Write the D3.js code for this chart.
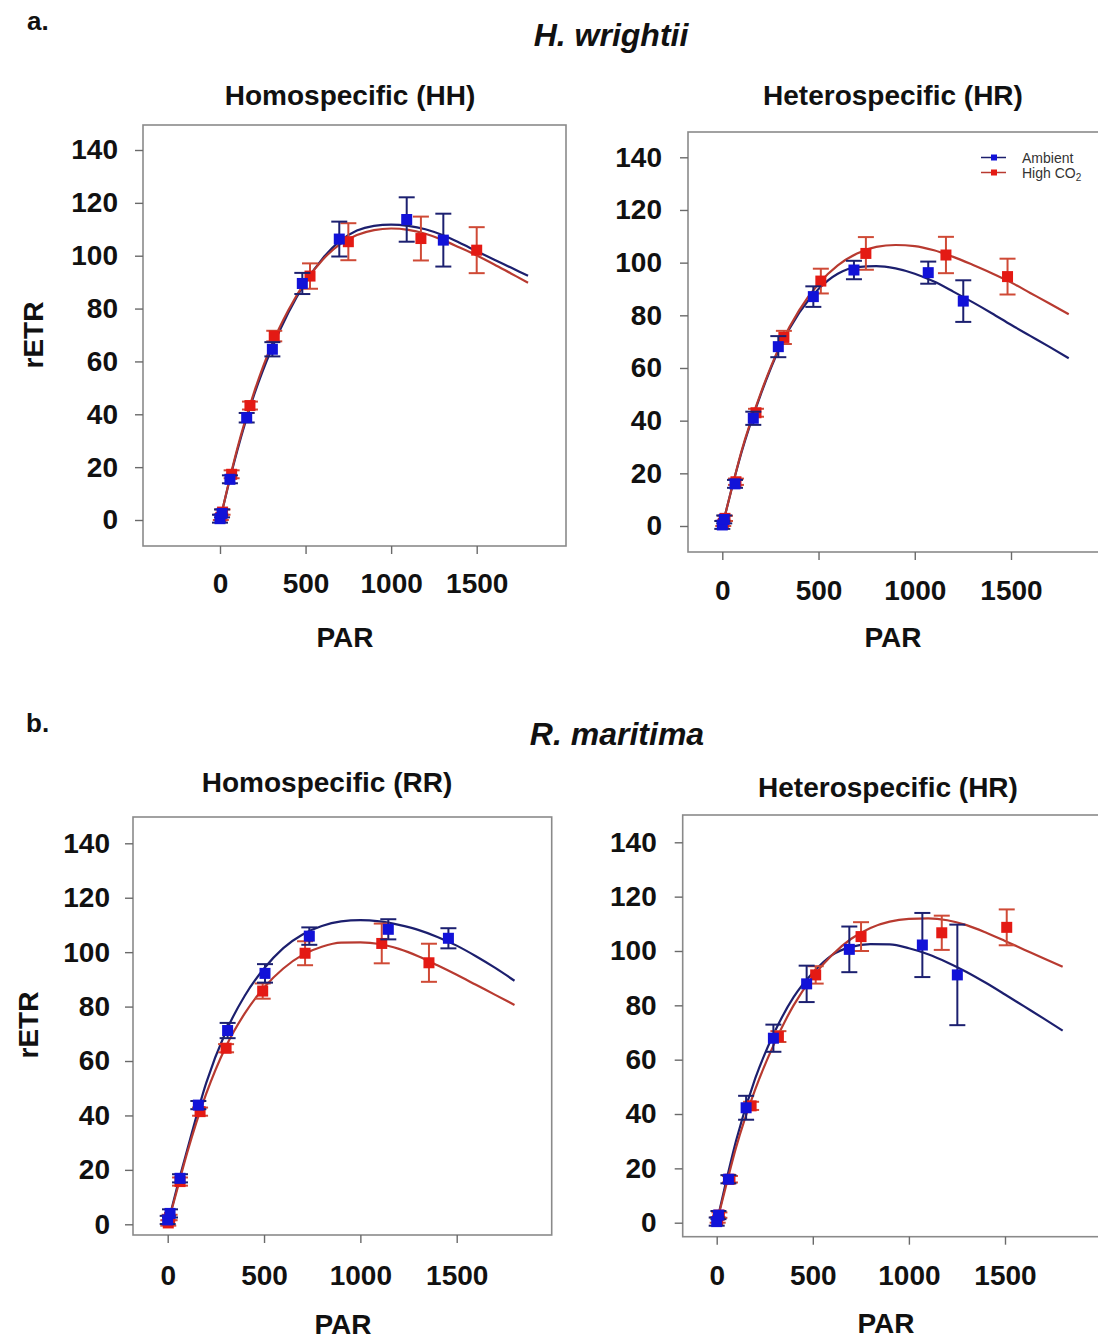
<!DOCTYPE html>
<html>
<head>
<meta charset="utf-8">
<script src="https://cdn.jsdelivr.net/npm/d3@7"></script>
<style>
  html, body { margin: 0; padding: 0; background: #fff; }
  svg { display: block; font-family: "Liberation Sans", Arial, sans-serif; }
</style>
</head>
<body>
<script>
// ---- Rapid light curves: rETR vs PAR, ambient vs high CO2 ----

const parTicks = [0, 500, 1000, 1500];
const etrTicks = [0, 20, 40, 60, 80, 100, 120, 140];

// PAR grid on which the fitted curves are tabulated
const fitPar = [0, 50, 100, 200, 300, 400, 500, 600, 700, 800, 900, 1000, 1100, 1200, 1300, 1400, 1500, 1600, 1700, 1800];

// H. wrightii, homospecific (HH)
const hhAmbPar = [0, 12, 58, 156, 306, 481, 697, 1091, 1305];
const hhAmbEtr = [0.5, 2.5, 15.4, 38.7, 64.6, 89.5, 106.3, 113.7, 105.9];
const hhAmbErr = [1.5, 1.5, 1.5, 1.8, 2.7, 4, 6.6, 8.4, 10];
const hhHighPar = [5, 15, 68, 175, 317, 526, 750, 1174, 1500];
const hhHighEtr = [1, 3, 17.3, 43.3, 69.6, 92.3, 105.3, 106.5, 102.1];
const hhHighErr = [1, 1, 1.5, 1.5, 2, 4.8, 7, 8.3, 8.7];
const hhAmbFit = [0, 13.5, 26, 47.5, 64.5, 78.5, 90, 99, 105.5, 109.5, 111.3, 111.8, 111.3, 110, 107.8, 104.9, 101.7, 98.6, 95.5, 92.4];
const hhHighFit = [0, 13.8, 26.8, 48.5, 66, 79.5, 90.3, 98.5, 104.3, 107.8, 109.7, 110.3, 109.8, 108.3, 106, 103.1, 100.1, 96.8, 93.3, 89.8];

// H. wrightii, heterospecific (HR)
const hwAmbPar = [0, 10, 66, 161, 291, 473, 684, 1070, 1252];
const hwAmbEtr = [0.4, 2.5, 16, 40.9, 68.1, 87.1, 97.2, 96.2, 85.4];
const hwAmbErr = [1.5, 1.5, 1.5, 2.5, 4, 3.9, 3.5, 4.2, 7.9];
const hwHighPar = [5, 14, 71, 175, 320, 512, 746, 1162, 1482];
const hwHighEtr = [1, 2.9, 16.8, 43, 71.6, 93, 103.5, 102.9, 94.7];
const hwHighErr = [1, 1, 1.2, 1.5, 2.5, 4.7, 6.2, 6.9, 6.8];
const hwAmbFit = [0, 14.5, 28, 50, 68, 81, 90, 95.8, 98.3, 98.7, 97.8, 95.8, 92.8, 89, 85, 80.8, 76.4, 72.2, 68, 63.7];
const hwHighFit = [0, 14.5, 28.5, 50.5, 68.5, 82, 92, 99, 103.5, 106, 106.7, 106.3, 104.7, 102.2, 99.2, 96, 92.5, 88.5, 84.5, 80.4];

// R. maritima, homospecific (RR)
const rrAmbPar = [0, 12, 64, 159, 311, 505, 735, 1145, 1457];
const rrAmbEtr = [1.6, 4, 16.9, 43.8, 71.2, 92.2, 105.9, 108.4, 105.1];
const rrAmbErr = [1.5, 1.5, 1.5, 1.5, 2.8, 3.4, 3.2, 3.7, 3.7];
const rrHighPar = [3, 10, 64, 168, 303, 493, 713, 1111, 1356];
const rrHighEtr = [0.5, 2.5, 15.7, 41.4, 64.7, 85.7, 99.6, 103.2, 96.1];
const rrHighErr = [1, 1, 1.5, 1.5, 1.5, 2.8, 4.4, 7.3, 7];
const rrAmbFit = [0, 14, 27, 52, 70.5, 84, 94, 101.5, 106.5, 109.6, 111.3, 111.8, 111.3, 110, 108.2, 105.6, 102.4, 98.5, 94.2, 89.5];
const rrHighFit = [0, 13, 26, 48, 65, 77.5, 87, 94, 99, 102, 103.5, 103.6, 103, 101.2, 98.5, 95.2, 91.7, 88, 84.3, 80.6];

// R. maritima, heterospecific (HR)
const rmAmbPar = [0, 9, 61, 153, 295, 468, 690, 1070, 1252];
const rmAmbEtr = [0.4, 2.8, 16, 42.3, 67.9, 87.9, 100.6, 102.2, 91.2];
const rmAmbErr = [1.5, 1.5, 1.5, 4.4, 5, 6.7, 8.4, 11.8, 18.5];
const rmHighPar = [5, 14, 69, 179, 321, 515, 751, 1171, 1509];
const rmHighEtr = [1, 2.8, 16, 43, 68.5, 91.2, 105.3, 106.7, 108.7];
const rmHighErr = [1, 1, 1.2, 1.5, 2, 3.2, 5.3, 6.3, 6.6];
const rmAmbFit = [0, 15.5, 30, 53, 70, 83, 92, 98.5, 101.5, 102.5, 102.4, 101, 98.8, 95.8, 92.3, 88.3, 84, 79.6, 75.2, 70.7];
const rmHighFit = [0, 14, 27.5, 49, 66, 80, 90.5, 98.5, 104.5, 108.5, 110.8, 111.8, 112, 111.3, 109.5, 106.8, 103.7, 100.5, 97.3, 94.2];

const seriesNames = ["Ambient", "High CO"];

// ---- colours ----
const C = {
  ambMark: "#1212d8", ambLine: "#1c1f6e", ambBar: "#1c2070",
  highMark: "#e41a14", highLine: "#b83a30", highBar: "#cf4a36",
  frame: "#8a8a8a", tick: "#6a6a6a", text: "#111"
};

// ---- panel layout (pixel placement of each plot) ----
const panels = [
  { title: "Homospecific (HH)", tx: 350, ty: 105,
    frame: [143, 125, 566, 546], xr: [220, 476.7], yr: [520, 150],
    yLabX: 33, yLabY: 335, parX: 345, parY: 647, xLabOff: 27, yLabOff: 25,
    amb: [hhAmbPar, hhAmbEtr, hhAmbErr, hhAmbFit], high: [hhHighPar, hhHighEtr, hhHighErr, hhHighFit] },
  { title: "Heterospecific (HR)", tx: 893, ty: 105,
    frame: [688, 132, 1110, 552], xr: [722.3, 1011], yr: [526, 157.3],
    yLabX: null, parX: 893, parY: 647, xLabOff: 28, yLabOff: 26, legend: true,
    amb: [hwAmbPar, hwAmbEtr, hwAmbErr, hwAmbFit], high: [hwHighPar, hwHighEtr, hwHighErr, hwHighFit] },
  { title: "Homospecific (RR)", tx: 327, ty: 792,
    frame: [133, 817, 551.7, 1235], xr: [167.7, 456.7], yr: [1224.3, 843.3],
    yLabX: 28, yLabY: 1025, parX: 343, parY: 1334, xLabOff: 30, yLabOff: 23,
    amb: [rrAmbPar, rrAmbEtr, rrAmbErr, rrAmbFit], high: [rrHighPar, rrHighEtr, rrHighErr, rrHighFit] },
  { title: "Heterospecific (HR)", tx: 888, ty: 797,
    frame: [682.7, 815, 1110, 1236.7], xr: [716.7, 1005], yr: [1222.7, 842.3],
    yLabX: null, parX: 886, parY: 1333, xLabOff: 28, yLabOff: 26,
    amb: [rmAmbPar, rmAmbEtr, rmAmbErr, rmAmbFit], high: [rmHighPar, rmHighEtr, rmHighErr, rmHighFit] }
];

const svg = d3.select("body").append("svg")
  .attr("width", 1098).attr("height", 1342);

// section letters and species headings
svg.append("text").attr("x", 27).attr("y", 30).attr("font-size", 26).attr("font-weight", "bold")
  .attr("fill", C.text).text("a.");
svg.append("text").attr("x", 611).attr("y", 46).attr("text-anchor", "middle")
  .attr("font-size", 32).attr("font-weight", "bold").attr("font-style", "italic")
  .attr("fill", C.text).text("H. wrightii");
svg.append("text").attr("x", 26).attr("y", 732).attr("font-size", 26).attr("font-weight", "bold")
  .attr("fill", C.text).text("b.");
svg.append("text").attr("x", 617).attr("y", 745).attr("text-anchor", "middle")
  .attr("font-size", 32).attr("font-weight", "bold").attr("font-style", "italic")
  .attr("fill", C.text).text("R. maritima");

panels.forEach(p => {
  const x = d3.scaleLinear().domain([0, 1500]).range(p.xr);
  const y = d3.scaleLinear().domain([0, 140]).range(p.yr);
  const [fx0, fy0, fx1, fy1] = p.frame;
  const g = svg.append("g");

  // plot frame
  g.append("rect").attr("x", fx0).attr("y", fy0)
    .attr("width", fx1 - fx0).attr("height", fy1 - fy0)
    .attr("fill", "none").attr("stroke", C.frame).attr("stroke-width", 1.6);

  // axes: ticks hang outside the frame
  const yAxis = d3.axisLeft(y).tickValues(etrTicks).tickFormat(d3.format("d"))
    .tickSize(8).tickPadding(p.yLabOff - 8);
  const ya = g.append("g").attr("transform", `translate(${fx0},0)`).call(yAxis);
  const xAxis = d3.axisBottom(x).tickValues(parTicks).tickFormat(d3.format("d"))
    .tickSize(8).tickPadding(p.xLabOff - 8);
  const xa = g.append("g").attr("transform", `translate(0,${fy1})`).call(xAxis);
  [ya, xa].forEach(a => {
    a.select(".domain").remove();
    a.selectAll(".tick line").attr("stroke", C.tick).attr("stroke-width", 1.4);
    a.selectAll(".tick text").attr("font-size", 28).attr("font-weight", "bold")
      .attr("fill", C.text).attr("font-family", "Liberation Sans, Arial, sans-serif");
  });

  // panel title and axis titles
  g.append("text").attr("x", p.tx).attr("y", p.ty).attr("text-anchor", "middle")
    .attr("font-size", 28).attr("font-weight", "bold").attr("fill", C.text).text(p.title);
  g.append("text").attr("x", p.parX).attr("y", p.parY).attr("text-anchor", "middle")
    .attr("font-size", 28).attr("font-weight", "bold").attr("fill", C.text).text("PAR");
  if (p.yLabX !== null) {
    g.append("text").attr("transform", `translate(${p.yLabX},${p.yLabY}) rotate(-90)`)
      .attr("text-anchor", "middle").attr("dy", "0.36em")
      .attr("font-size", 28).attr("font-weight", "bold").attr("fill", C.text).text("rETR");
  }

  const line = d3.line().x(d => x(d[0])).y(d => y(d[1])).curve(d3.curveMonotoneX);

  // fitted curves
  const drawFit = (fit, col) => g.append("path")
    .datum(fitPar.map((v, i) => [v, fit[i]]))
    .attr("d", line).attr("fill", "none").attr("stroke", col).attr("stroke-width", 2.2);
  drawFit(p.amb[3], C.ambLine);
  drawFit(p.high[3], C.highLine);

  // measured means with error bars
  const drawPts = (s, barCol, markCol) => {
    const [par, etr, err] = s;
    const pts = par.map((v, i) => ({ par: v, etr: etr[i], err: err[i] }));
    const eg = g.append("g").attr("stroke", barCol).attr("stroke-width", 2).attr("fill", "none");
    pts.forEach(d => {
      const cx = x(d.par), yt = y(d.etr + d.err), yb = y(d.etr - d.err);
      eg.append("line").attr("x1", cx).attr("x2", cx).attr("y1", yt).attr("y2", yb);
      eg.append("line").attr("x1", cx - 8).attr("x2", cx + 8).attr("y1", yt).attr("y2", yt);
      eg.append("line").attr("x1", cx - 8).attr("x2", cx + 8).attr("y1", yb).attr("y2", yb);
    });
    g.append("g").selectAll("rect").data(pts).join("rect")
      .attr("x", d => x(d.par) - 5.5).attr("y", d => y(d.etr) - 5.5)
      .attr("width", 11).attr("height", 11).attr("fill", markCol);
  };
  drawPts(p.high, C.highBar, C.highMark);
  drawPts(p.amb, C.ambBar, C.ambMark);

  // legend
  if (p.legend) {
    const lg = g.append("g");
    const rows = [
      { name: seriesNames[0], line: C.ambLine, mark: C.ambMark, yy: 157.5 },
      { name: seriesNames[1], line: C.highLine, mark: C.highMark, yy: 172.5 }
    ];
    rows.forEach((r, i) => {
      lg.append("line").attr("x1", 981).attr("x2", 1006).attr("y1", r.yy).attr("y2", r.yy)
        .attr("stroke", r.line).attr("stroke-width", 1.5);
      lg.append("rect").attr("x", 991).attr("y", r.yy - 3).attr("width", 6).attr("height", 6)
        .attr("fill", r.mark);
      const t = lg.append("text").attr("x", 1022).attr("y", r.yy + 5)
        .attr("font-size", 14).attr("fill", "#333").text(r.name);
      if (i === 1) t.append("tspan").attr("font-size", 10).attr("dy", 3).text("2");
    });
  }
});
</script>
</body>
</html>
